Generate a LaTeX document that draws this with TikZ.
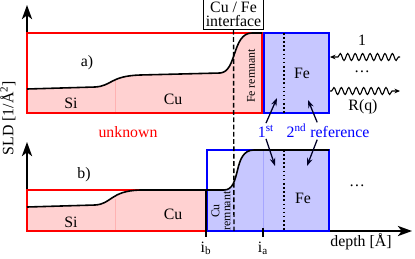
\documentclass[tikz,border=0pt]{standalone}
\usepackage{fontspec}
\setmainfont{Liberation Serif}
\usetikzlibrary{arrows.meta, decorations.pathmorphing}

\newcommand{\sldtop}{(27,89) -- (95,87) .. controls (112,86) and (110,76) .. (140,75) -- (220,73) .. controls (237,72) and (232,33) .. (252,33) -- (262,33)}
\newcommand{\sldbot}{(27,207) -- (95,205) .. controls (112,204) and (110,191) .. (140,190) -- (224,190) .. controls (242,190) and (232,150) .. (254,150) -- (329,150)}

\begin{document}
\begin{tikzpicture}[x=0.0222cm, y=-0.0222cm, axis/.style={line width=1pt, -{Stealth[length=9pt, width=6.5pt, inset=2.5pt]}}, unknownbox/.style={draw=red, line width=0.8pt}, refbox/.style={draw=blue, line width=0.8pt}, profile/.style={line width=1pt}, seam/.style={line width=0.4pt}, pointer/.style={-{Stealth[length=5pt, width=3.5pt]}, line width=0.8pt, black!85!blue}, wave/.style={decorate, decoration={snake, amplitude=2.2pt, segment length=4.7pt, pre length=1pt, post length=5pt}, -{Stealth[length=3.5pt, width=3pt]}, line width=0.7pt}, remnant/.style={rotate=90, align=center, inner sep=0pt, font=\fontsize{7.5}{7}\selectfont}]
\useasboundingbox (0,0) rectangle (415,258);

% axes
\draw[axis] (27,113) -- (27,5);
\draw[axis] (27,231) -- (27,142);
\draw[axis] (27,231) -- (412,231);
\node[rotate=90] (sld) at (8,118) {SLD [1/Å\textsuperscript{2}]};
\node (depth) at (361,242) {depth [Å]};

% a) first reference
\fill[red!18] (27,113) -- \sldtop -- (262,113) -- cycle;
\draw[seam, red!30] (115,81) -- (115,113);
\filldraw[fill=blue!22, refbox] (264,33) rectangle (329,113);
\draw[unknownbox] (27,33) rectangle (262,113);
\draw[profile] \sldtop;
\draw[line width=1pt, dash pattern=on 1pt off 1.6pt] (284,33) -- (284,113);

% b) second reference
\fill[red!18] (27,231) -- (27,207) -- (95,205) .. controls (112,204) and (110,191) .. (140,190) -- (206,190) -- (206,231) -- cycle;
\fill[blue!22] (207,231) -- (207,190) -- (224,190) .. controls (242,190) and (232,150) .. (254,150) -- (329,150) -- (329,231) -- cycle;
\draw[seam, red!30] (115,199) -- (115,231);
\draw[seam, blue!35] (263,150) -- (263,231);
\draw[unknownbox] (27,190) rectangle (206,231);
\draw[refbox] (207,150) rectangle (329,231);
\draw[profile] \sldbot;
\draw[line width=1pt] (206,190) -- (206,237);
\draw[line width=0.8pt] (263,228) -- (263,237);
\draw[line width=1pt, dash pattern=on 1pt off 1.6pt] (284,150) -- (284,231);

% interface
\node[draw, line width=0.8pt, fill=white, align=center, inner sep=1.5pt, font=\fontsize{10}{9}\selectfont] (iface) at (233.5,14.5) {Cu / Fe\\interface};
\coordinate (ifacefoot) at (234,231);
\draw[line width=0.9pt, dash pattern=on 3pt off 1.6pt] (iface.south) -- (ifacefoot);

% texts
\node (parta) at (87,63) {a)};
\node (partb) at (84,175) {b)};
\node (sia) at (71,103) {Si};
\node (cua) at (173,99) {Cu};
\node (sib) at (71,222) {Si};
\node (cub) at (173,214) {Cu};
\node[remnant] (ferem) at (251,76) {Fe remnant};
\node[remnant] (curem) at (221,211) {Cu\\remnant};
\node (fea) at (302,73) {Fe};
\node (feb) at (303,198) {Fe};
\node[red] (unknown) at (128,132) {unknown};
\node (ib) at (206,248) {i\textsubscript{b}};
\node (ia) at (263,248) {i\textsubscript{a}};
\node (moreb) at (357,186) {\dots};

% reference labels
\node[blue, inner sep=1pt] (first) at (266,131) {1\textsuperscript{st}};
\node[blue, inner sep=1pt] (second) at (328,131) {2\textsuperscript{nd} reference};
\coordinate (hitfirsta) at (277,98);
\coordinate (hitseconda) at (308,100);
\coordinate (hitfirstb) at (275,166);
\coordinate (hitsecondb) at (307,166);
\draw[pointer] (first.north) -- (hitfirsta);
\draw[pointer] ([xshift=-0.24cm]second.north) -- (hitseconda);
\draw[pointer] (first.south) -- (hitfirstb);
\draw[pointer] ([xshift=-0.24cm]second.south) -- (hitsecondb);

% beams
\coordinate (beamin) at (400,57);
\coordinate (beamout) at (400,91);
\draw[wave] (beamin) -- (330,57);
\draw[wave] (330,91) -- (beamout);
\node (one) at (362,40) {1};
\node (morea) at (362,72) {\dots};
\node (rq) at (363,107) {R(q)};
\end{tikzpicture}
\end{document}
